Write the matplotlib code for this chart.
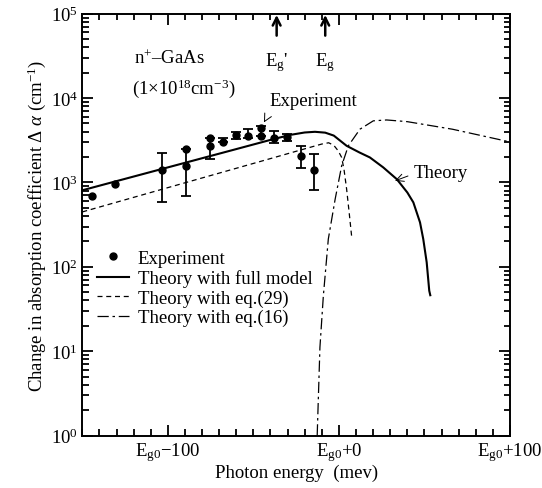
import numpy as np
import matplotlib
matplotlib.use("Agg")
import matplotlib.pyplot as plt
from matplotlib.ticker import FixedLocator, LogLocator, NullFormatter

plt.rcParams["font.family"] = ["Liberation Serif", "DejaVu Serif"]
plt.rcParams["mathtext.fontset"] = "custom"
plt.rcParams["mathtext.rm"] = "Liberation Serif"
plt.rcParams["mathtext.it"] = "Liberation Serif:italic"
plt.rcParams["mathtext.bf"] = "Liberation Serif:bold"
FS = 13.5

# experiment (photon energy relative to Eg0 in meV, delta alpha in cm^-1)
exp_x = [-144.5, -130.9, -103.6, -89.6, -89.6, -75.4, -75.4, -67.9, -60.3,
         -53.0, -45.7, -45.7, -37.8, -30.5, -22.2, -14.6]
exp_y = [694, 955, 1410, 1573, 2482, 2671, 3321, 2979, 3664,
         3565, 3565, 4450, 3321, 3467, 2066, 1410]
# error bars: x, lower bound, upper bound
err_x = [-103.6, -89.6, -75.4, -67.9, -60.3, -53.0, -45.7, -37.8, -30.5, -22.2, -14.6]
err_lo = [589, 694, 1888, 2979, 3260, 3400, 3565, 2950, 3110, 1465, 817]
err_hi = [2224, 2482, 3321, 3350, 3975, 4280, 4700, 4020, 3800, 2671, 2148]

# theory with full model
full_x = [-150, -100, -60, -38, -28, -20, -14, -8, -3, 4.5, 12, 18.1,
          25.9, 33.8, 40, 43.5, 47.4, 49.3, 51.3, 52.8, 53.4]
full_y = [807, 1507, 2484, 3273, 3673, 3908, 3981, 3890, 3589, 2716, 2265, 1977,
          1507, 1094, 759, 580, 336, 213, 113, 52, 46]

# theory with eq.(29)
eq29_x = [-150, -100, -50, -20, -10, -6, -3, -0.4, 1.6, 3, 4.5, 6, 7.5]
eq29_y = [447, 867, 1679, 2500, 2851, 2951, 2754, 2366, 1977, 1413, 834, 437, 223]

# theory with eq.(16)
eq16_x = [-12.7, -11.1, -9.1, -6.2, -2.2, 1.6, 5.5, 12.3, 20.1, 27.9,
          40, 66.4, 100]
eq16_y = [1.0, 11.1, 45.3, 213, 634, 1574, 2716, 4276, 5370, 5500,
          5250, 4270, 3020]

xticks = [-100, 0, 100]
xticklabels = [r"E$_{\rm g0}$$-$100", r"E$_{\rm g0}$+0", r"E$_{\rm g0}$+100"]

fig = plt.figure(figsize=(5.42, 4.89), dpi=100)
ax = fig.add_axes([82.3 / 542, 1 - 436.5 / 489, 427.7 / 542, 421.8 / 489])

ax.plot(full_x, full_y, color="black", lw=1.5, label="Theory with full model")
ax.plot(eq29_x, eq29_y, color="black", lw=0.9, dashes=(4, 3),
        label="Theory with eq.(29)")
ax.plot(eq16_x, eq16_y, color="black", lw=0.9, dashes=(9, 3, 2, 3),
        label="Theory with eq.(16)")

lo = np.array(err_lo)
hi = np.array(err_hi)
mid = (lo + hi) / 2
ax.errorbar(err_x, mid, yerr=[mid - lo, hi - mid], fmt="none", ecolor="black",
            elinewidth=1.3, capsize=3.5, capthick=1.3)
ax.plot(exp_x, exp_y, "o", color="black", ms=5, label="Experiment")

ax.set_yscale("log")
ax.set_xlim(-150, 100)
ax.set_ylim(1, 1e5)
ax.set_xticks(xticks, labels=xticklabels)
ax.xaxis.set_minor_locator(FixedLocator(np.arange(-150, 101, 10)))
ax.yaxis.set_major_locator(LogLocator(base=10, numticks=10))
ax.yaxis.set_minor_locator(LogLocator(base=10, subs=np.arange(2, 10), numticks=20))
ax.yaxis.set_minor_formatter(NullFormatter())
for s in ax.spines.values():
    s.set_linewidth(1.4)
ax.tick_params(which="both", direction="in", length=0, labelsize=FS, pad=3)

# inward tick marks on all four sides, placed at the locator positions
xmaj = [v for v in ax.xaxis.get_majorticklocs() if -150 <= v <= 100]
xmin = [v for v in ax.xaxis.get_minorticklocs() if -150 <= v <= 100 and v not in xmaj]
ymaj = [v for v in ax.yaxis.get_majorticklocs() if 1 <= v <= 1e5]
ymin = [v for v in ax.yaxis.get_minorticklocs() if 1 <= v <= 1e5]
LX_MAJ, LX_MIN = 11 / 421.8, 6.3 / 421.8
LY_MAJ, LY_MIN = 11 / 427.7, 6.3 / 427.7
xt = ax.get_xaxis_transform()
yt = ax.get_yaxis_transform()
tick_kw = dict(colors="black", linewidths=1.3, clip_on=False, zorder=2.6)
ax.vlines(xmaj, 0, LX_MAJ, transform=xt, **tick_kw)
ax.vlines(xmaj, 1 - LX_MAJ, 1, transform=xt, **tick_kw)
ax.vlines(xmin, 0, LX_MIN, transform=xt, **tick_kw)
ax.vlines(xmin, 1 - LX_MIN, 1, transform=xt, **tick_kw)
ax.hlines(ymaj, 0, LY_MAJ, transform=yt, **tick_kw)
ax.hlines(ymaj, 1 - LY_MAJ, 1, transform=yt, **tick_kw)
ax.hlines(ymin, 0, LY_MIN, transform=yt, **tick_kw)
ax.hlines(ymin, 1 - LY_MIN, 1, transform=yt, **tick_kw)
ax.set_xlim(-150, 100)
ax.set_ylim(1, 1e5)

ax.set_xlabel("Photon energy  (mev)", fontsize=FS, labelpad=1)
ax.set_ylabel(r"Change in absorption coefficient $\Delta$ $\it{α}$ (cm$^{-1}$)",
              fontsize=FS, labelpad=2)

# labels inside the plot
ax.text(0.121, 0.895, r"n$^{+}$–GaAs", transform=ax.transAxes, fontsize=FS,
        va="center")
ax.text(0.116, 0.824, r"(1$\times$10$^{18}$cm$^{-3}$)", transform=ax.transAxes,
        fontsize=FS, va="center")
for xe, lab in [(-36.4, r"E$_{\rm g}$'"), (-8.0, r"E$_{\rm g}$")]:
    ax.annotate("", xy=(xe, 0.997), xytext=(xe, 0.948),
                xycoords=("data", "axes fraction"),
                arrowprops=dict(arrowstyle="->", color="black", lw=1.8,
                                mutation_scale=14, shrinkA=0, shrinkB=0))
    ax.text(xe, 0.886, lab, transform=ax.get_xaxis_transform(), fontsize=FS,
            ha="center", va="center")

ax.annotate("Experiment", xy=(-43.8, 5150), xytext=(0.438, 0.795),
            textcoords="axes fraction", fontsize=FS, va="center", ha="left",
            arrowprops=dict(arrowstyle="->", color="black", lw=0.7,
                            shrinkA=8, shrinkB=0, relpos=(0.02, 0.0)))
ax.annotate("Theory", xy=(32.8, 1045), xytext=(0.774, 0.624),
            textcoords="axes fraction", fontsize=FS, va="center", ha="left",
            arrowprops=dict(arrowstyle="->", color="black", lw=0.7,
                            shrinkA=2, shrinkB=0, relpos=(0.0, 0.4)))

h, l = ax.get_legend_handles_labels()
order = [3, 0, 1, 2]
ax.legend([h[i] for i in order], [l[i] for i in order], loc="upper left",
          bbox_to_anchor=(0.035, 0.44), frameon=False, fontsize=FS,
          handlelength=1.7, handletextpad=0.45, labelspacing=0.12,
          borderpad=0, borderaxespad=0)

fig.savefig("out.png", dpi=100)
